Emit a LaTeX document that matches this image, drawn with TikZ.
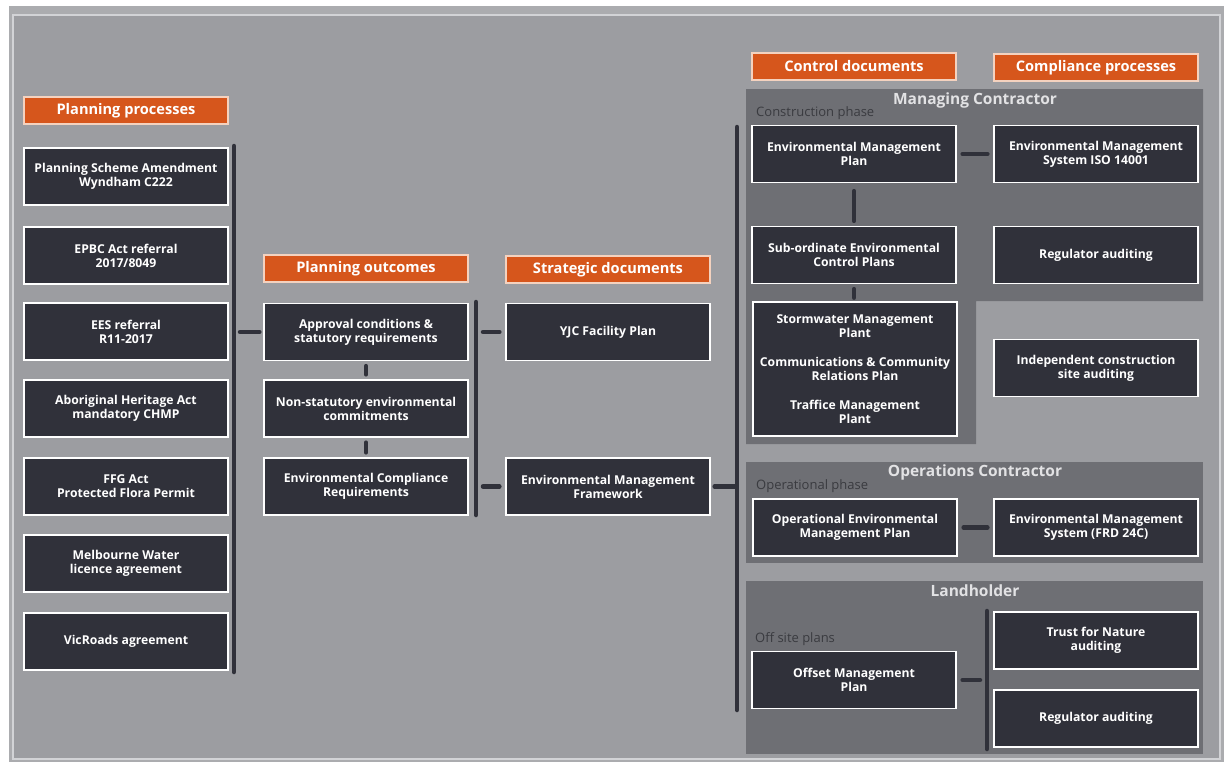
\documentclass[tikz,border=0pt]{standalone}
\usepackage{fontspec}
\setmainfont{Open Sans}
\definecolor{bgc}{HTML}{9C9DA1}
\definecolor{framec}{HTML}{D2D3D6}
\definecolor{panelc}{HTML}{6E6F74}
\definecolor{boxc}{HTML}{30313A}
\definecolor{orangec}{HTML}{D6561C}
\definecolor{headline}{HTML}{F4D2BF}
\definecolor{titlec}{HTML}{E2E2E4}
\definecolor{phasec}{HTML}{3A3B40}

\begin{document}
\begin{tikzpicture}[x=1pt,y=-1pt,
    box/.style={draw=white, line width=1.3pt, fill=boxc, text=white, align=center,
        font=\fontsize{12.2}{14}\selectfont\bfseries, minimum width=204, minimum height=57, inner sep=1pt},
    head/.style={draw=headline, line width=1.2pt, fill=orangec, text=white,
        font=\fontsize{14.6}{16}\selectfont\bfseries, minimum width=204, minimum height=27, inner sep=0pt},
    conn/.style={draw=boxc, line width=4.5pt, line cap=round},
    ptitle/.style={text=titlec, font=\fontsize{15.5}{17}\selectfont\bfseries},
    phase/.style={text=phasec, font=\fontsize{13}{15}\selectfont, anchor=west, inner sep=0pt}]
    \useasboundingbox (0,0) rectangle (1226,764);
    \fill[white] (0,0) rectangle (1226,764);
    \fill[bgc!85!white] (9,6) rectangle (1224,762);
    \fill[bgc] (13,15) rectangle (1220,759);
    \draw[framec, line width=1.5pt] (13,15) rectangle (1220,759);

    \fill[panelc] (746,89) -- (1203,89) -- (1203,301) -- (976,301) -- (976,444) -- (746,444) -- cycle;
    \fill[panelc] (746,462) rectangle (1203,563);
    \fill[panelc] (746,581) rectangle (1203,754);
    \node[ptitle] (mctitle) at (975,100) {Managing Contractor};
    \node[ptitle] (octitle) at (975,472) {Operations Contractor};
    \node[ptitle] (lhtitle) at (975,591) {Landholder};
    \node[phase] (conphase) at (756,113) {Construction phase};
    \node[phase] (opphase) at (756,486) {Operational phase};
    \node[phase] (offphase) at (755,639) {Off site plans};

    \node[head] (hproc) at (126,110.5) {Planning processes};
    \node[head] (hout) at (366,268.5) {Planning outcomes};
    \node[head] (hstrat) at (608,269.5) {Strategic documents};
    \node[head] (hctrl) at (854,66.5) {Control documents};
    \node[head] (hcomp) at (1096,67.5) {Compliance processes};

    \node[box] (psa) at (126,176.5) {Planning Scheme Amendment\\Wyndham C222};
    \node[box] (epbc) at (126,255.5) {EPBC Act referral\\2017/8049};
    \node[box] (ees) at (126,331.5) {EES referral\\R11-2017};
    \node[box] (aha) at (126,408.5) {Aboriginal Heritage Act\\mandatory CHMP};
    \node[box] (ffg) at (126,486.5) {FFG Act\\Protected Flora Permit};
    \node[box] (mw) at (126,563.5) {Melbourne Water\\licence agreement};
    \node[box] (vic) at (126,641.5) {VicRoads agreement};

    \node[box] (appr) at (366,332) {Approval conditions \&\\statutory requirements};
    \node[box] (nonstat) at (366,408.5) {Non-statutory environmental\\commitments};
    \node[box] (ecr) at (366,486.5) {Environmental Compliance\\Requirements};

    \node[box] (yjc) at (608,332) {YJC Facility Plan};
    \node[box] (emf) at (608,486.5) {Environmental Management\\Framework};

    \node[box] (emp) at (854,154) {Environmental Management\\Plan};
    \node[box] (ems) at (1096,154) {Environmental Management\\System ISO 14001};
    \node[box] (sub) at (854,255) {Sub-ordinate Environmental\\Control Plans};
    \node[box] (regaud) at (1096,255) {Regulator auditing};
    \node[box, line width=2.6pt, minimum width=204, minimum height=134] (plans) at (855,369)
        {Stormwater Management\\Plant\\[15pt]Communications \& Community\\Relations Plan\\[15pt]Traffice Management\\Plant};
    \node[box] (indep) at (1096,368) {Independent construction\\site auditing};
    \node[box] (opemp) at (855,527.5) {Operational Environmental\\Management Plan};
    \node[box] (ems2) at (1096,527.5) {Environmental Management\\System (FRD 24C)};
    \node[box] (offset) at (854,680) {Offset Management\\Plan};
    \node[box] (tfn) at (1096,640.5) {Trust for Nature\\auditing};
    \node[box] (regaud2) at (1096,718.5) {Regulator auditing};

    \coordinate (lbtop) at (234,146);
    \coordinate (lbbot) at (234,672);
    \coordinate (mbtop) at (476,302);
    \coordinate (mbbot) at (476,515);
    \coordinate (rbtop) at (737,127);
    \coordinate (rbbot) at (737,710);
    \coordinate (hbtop) at (987,611);
    \coordinate (hbbot) at (987,749);

    \draw[conn] (lbtop) -- (lbbot);
    \draw[conn] (mbtop) -- (mbbot);
    \draw[conn] (rbtop) -- (rbbot);
    \draw[conn] (hbtop) -- (hbbot);

    \draw[conn, shorten <=6pt, shorten >=4pt] (lbtop |- appr.west) -- (appr.west);
    \draw[conn, shorten <=5pt, shorten >=5pt] (appr.south) -- (nonstat.north);
    \draw[conn, shorten <=5pt, shorten >=5pt] (nonstat.south) -- (ecr.north);
    \draw[conn, shorten <=7pt, shorten >=6pt] (mbtop |- yjc.west) -- (yjc.west);
    \draw[conn, shorten <=7pt, shorten >=6pt] (mbtop |- emf.west) -- (emf.west);
    \draw[conn, shorten <=4pt, shorten >=2pt] (emf.east) -- (rbtop |- emf.east);
    \draw[conn, shorten <=6pt, shorten >=6pt] (emp.east) -- (ems.west);
    \draw[conn, shorten <=8pt, shorten >=5pt] (emp.south) -- (sub.north);
    \draw[conn, shorten <=5pt, shorten >=3pt] (sub.south) -- (sub.south |- plans.north);
    \draw[conn, shorten <=6pt, shorten >=6pt] (opemp.east) -- (ems2.west);
    \draw[conn, shorten <=6pt, shorten >=7pt] (offset.east) -- (hbtop |- offset.east);
\end{tikzpicture}
\end{document}
